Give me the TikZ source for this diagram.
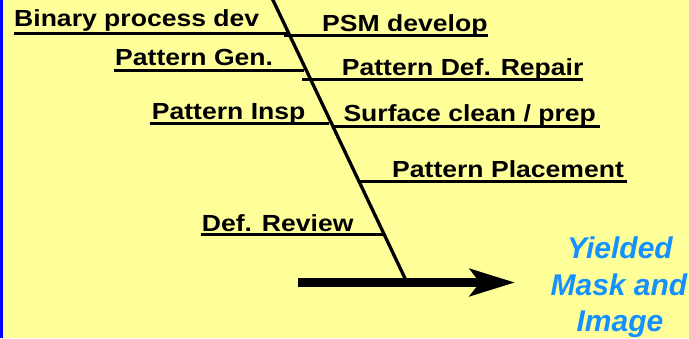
\documentclass[tikz,border=0pt]{standalone}
\usepackage{fontspec}
\setmainfont{Liberation Sans}
\usetikzlibrary{arrows.meta}
\definecolor{bgyellow}{RGB}{255,255,153}
\definecolor{edgeblue}{RGB}{0,0,255}
\definecolor{outblue}{RGB}{20,145,255}
\newcommand{\lbl}[1]{\scalebox{1.14}[1]{\fontsize{23.3}{28}\selectfont\bfseries #1}}
\newcommand{\outlbl}[1]{\fontsize{30}{36}\selectfont\bfseries\itshape #1}
\begin{document}
\begin{tikzpicture}[x=1pt,y=-1pt,
  lab/.style={anchor=base west,inner sep=0pt,text=black},
  outtext/.style={anchor=base,inner sep=0pt,text=outblue},
  branch/.style={line width=3pt,black},
  spineline/.style={line width=3.3pt,black},
  mainarrow/.style={line width=8.5pt,black,-{Stealth[length=45pt,width=27pt,inset=10pt]}}]
\fill[bgyellow] (0,0) rectangle (689,338);
\fill[edgeblue] (0,0) rectangle (3,338);
\useasboundingbox (0,0) rectangle (689,338);
% spine
\coordinate (sTop) at (272,-2);
\coordinate (sBot) at (405.8,280);
\draw[spineline] (sTop) -- (sBot);
% main arrow
\coordinate (aStart) at (298,282.5);
\coordinate (aEnd) at (515,282.5);
\draw[mainarrow] (aStart) -- (aEnd);
% labels
\node[lab] (l1) at (14,26.7) {\lbl{Binary process dev}};
\node[lab] (r1) at (322,31.7) {\lbl{PSM develop}};
\node[lab] (l2) at (115,65) {\lbl{Pattern Gen.}};
\node[lab] (r2) at (341.7,75) {\lbl{Pattern Def. Repair}};
\node[lab] (l3) at (151.7,119.3) {\lbl{Pattern Insp}};
\node[lab] (r3) at (343.3,121.7) {\lbl{Surface clean / prep}};
\node[lab] (r4) at (392,177) {\lbl{Pattern Placement}};
\node[lab] (l5) at (201.7,231.7) {\lbl{Def. Review}};
% branch lines
\coordinate (l1a) at (14,33);   \coordinate (l1b) at (288,33);
\coordinate (r1a) at (284,35.5); \coordinate (r1b) at (488,35.5);
\coordinate (l2a) at (114,70.5); \coordinate (l2b) at (304,70.5);
\coordinate (r2a) at (302,79);  \coordinate (r2b) at (583,79);
\coordinate (l3a) at (150,123.5); \coordinate (l3b) at (329,123.5);
\coordinate (r3a) at (333,126.5); \coordinate (r3b) at (600,126.5);
\coordinate (r4a) at (360,181.5); \coordinate (r4b) at (627,181.5);
\coordinate (l5a) at (201,234.5); \coordinate (l5b) at (383,234.5);
\draw[branch] (l1a) -- (l1b);
\draw[branch] (r1a) -- (r1b);
\draw[branch] (l2a) -- (l2b);
\draw[branch] (r2a) -- (r2b);
\draw[branch] (l3a) -- (l3b);
\draw[branch] (r3a) -- (r3b);
\draw[branch] (r4a) -- (r4b);
\draw[branch] (l5a) -- (l5b);
% outcome
\node[outtext] (o1) at (620,258.3) {\outlbl{Yielded}};
\node[outtext] (o2) at (619,295) {\outlbl{Mask and}};
\node[outtext] (o3) at (620,331.7) {\outlbl{Image}};
\end{tikzpicture}
\end{document}
